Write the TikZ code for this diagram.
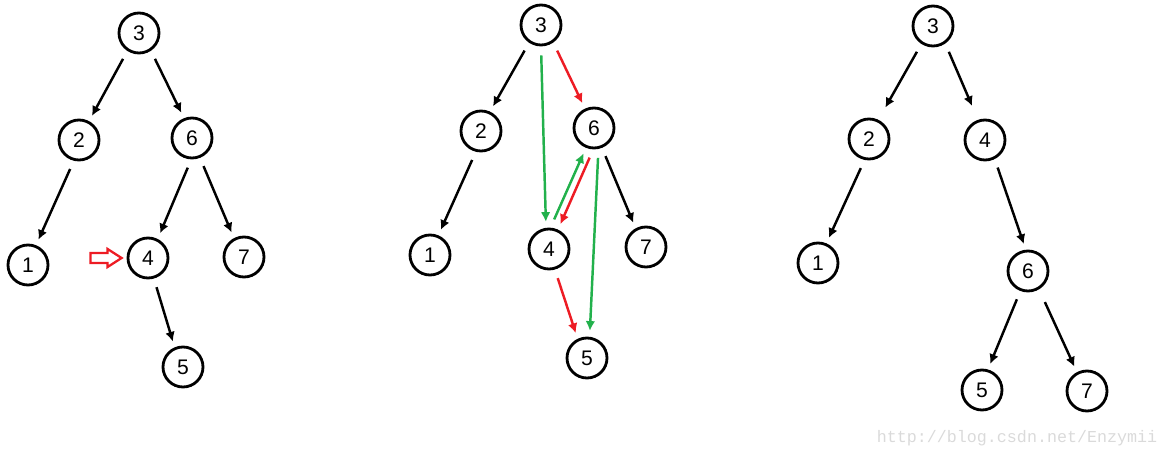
\documentclass[tikz,border=0pt]{standalone}
\usepackage{fontspec}
\setmainfont{Liberation Sans}
\newfontfamily\markfont{Liberation Mono}
\usepackage{xcolor}
\usetikzlibrary{arrows.meta, calc}
\definecolor{paintred}{RGB}{237,28,36}
\definecolor{paintgreen}{RGB}{34,177,76}
\definecolor{markgray}{RGB}{218,218,218}
\tikzset{
  num/.style={circle, draw=black, line width=1.6pt, minimum size=0.8cm, inner sep=0pt,
    font=\fontsize{12}{14}\selectfont},
  arr/.style={-{Latex[length=5.5pt,width=5.5pt]}, line width=1.4pt,
    shorten <=0.18cm, shorten >=0.12cm},
}

\begin{document}
\begin{tikzpicture}[x=0.02cm, y=-0.02cm]
  % canvas in pixels of the screenshot (y runs down)
  \useasboundingbox (0,0) rectangle (1169,453);
  % left tree: 4 is about to go
  \foreach \n/\x/\y in {3/139/33, 2/79/140, 6/192/138, 1/28/265, 4/148/258, 7/244/257, 5/183/367}
    \node[num] (a\n) at (\x,\y) {\n};
  \draw[arr] (a3.237) -- (a2.62);
  \draw[arr] (a3.304) -- (a6.112);
  \draw[arr] (a2.256) -- (a1.68);
  \draw[arr] (a6.268) -- (a4.63);
  \draw[arr] (a6.292) -- (a7.118);
  \draw[arr] (a4.286) -- (a5.113);
  % hollow pointer at 4
  \coordinate (ptr) at ($(a4.west)+(-5,0)$);
  \draw[paintred, line width=1.3pt] (ptr) -- ++(-14,-9) -- ++(0,4) -- ++(-17,0) -- ++(0,10)
    -- ++(17,0) -- ++(0,4) -- cycle;
  % middle tree: red = search path, green = moves
  \foreach \n/\x/\y in {3/541/25, 2/481/131, 6/594/128, 1/430/255, 4/549/249, 7/646/247, 5/587/358}
    \node[num] (b\n) at (\x,\y) {\n};
  \draw[arr] (b3.236) -- (b2.65);
  \draw[arr] (b2.256) -- (b1.67);
  \draw[arr] (b6.292) -- (b7.119);
  \draw[arr, paintred] (b3.305) -- (b6.115);
  \draw[arr, paintred] (b6.268) -- (b4.65);
  \draw[arr, paintred] (b4.286) -- (b5.116);
  \draw[arr, paintgreen] (b3.270) -- (b4.98);
  \draw[arr, paintgreen] (b4.86) -- (b6.248);
  \draw[arr, paintgreen] (b6.282) -- (b5.83);
  % right tree: result
  \foreach \n/\x/\y in {3/933/26, 2/869/139, 4/985/140, 1/818/263, 6/1028/271, 5/982/390, 7/1087/391}
    \node[num] (c\n) at (\x,\y) {\n};
  \draw[arr, shorten >=0.28cm] (c3.237) -- (c2.64);
  \draw[arr, shorten >=0.3cm] (c3.305) -- (c4.109);
  \draw[arr] (c2.258) -- (c1.67);
  \draw[arr] (c4.297) -- (c6.96);
  \draw[arr] (c6.249) -- (c5.74);
  \draw[arr, shorten <=0.28cm] (c6.301) -- (c7.118);
  % watermark
  \node[font=\markfont\fontsize{9.5}{11}\selectfont, text=markgray, anchor=base, inner sep=0pt]
    (mark) at (1017,442) {http://blog.csdn.net/Enzymii};
\end{tikzpicture}
\end{document}
